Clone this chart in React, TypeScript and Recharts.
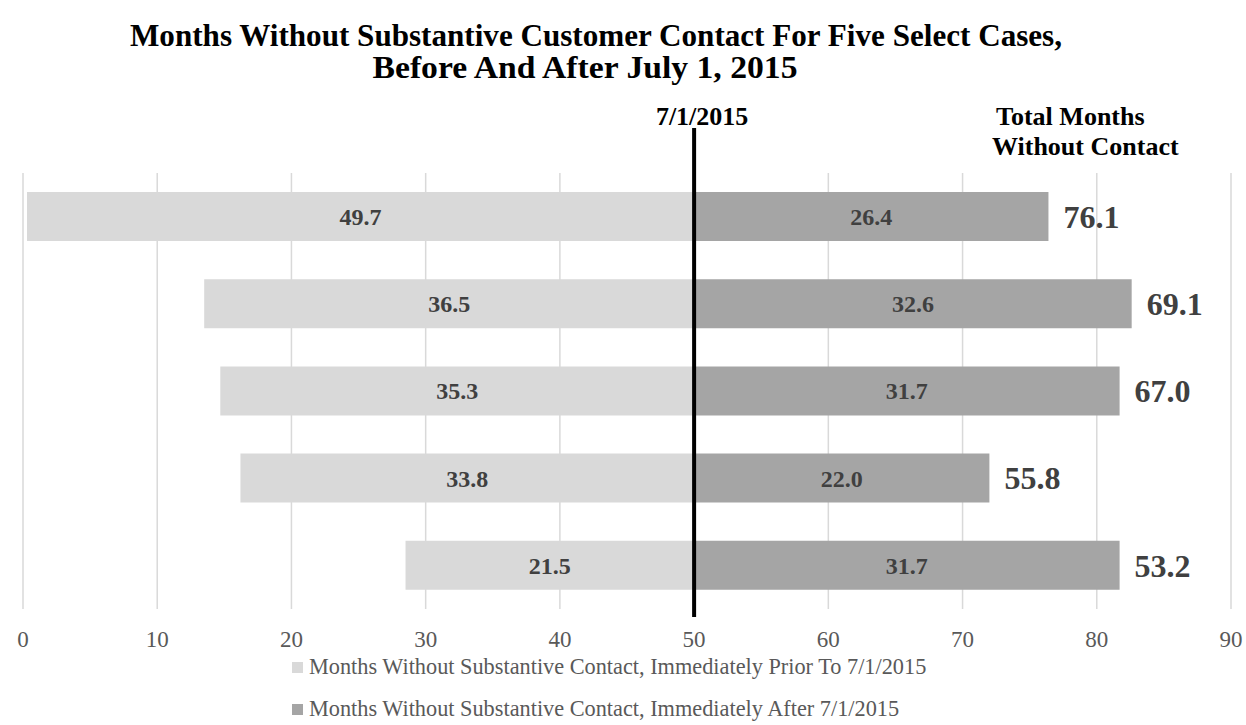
import { BarChart, Bar, XAxis, YAxis, CartesianGrid, ReferenceLine, LabelList } from 'recharts';

// five select cases, top to bottom
const cases = ['Case 1', 'Case 2', 'Case 3', 'Case 4', 'Case 5'];
const priorMonths = [49.7, 36.5, 35.3, 33.8, 21.5];
const afterMonths = [26.4, 32.6, 31.7, 22.0, 31.7];
const totalMonths = [76.1, 69.1, 67.0, 55.8, 53.2];
const xTicks = [0, 10, 20, 30, 40, 50, 60, 70, 80, 90];
const pivot = 50; // where 7/1/2015 sits on the axis

const priorLabel = 'Months Without Substantive Contact, Immediately Prior To 7/1/2015';
const afterLabel = 'Months Without Substantive Contact, Immediately After 7/1/2015';

const data = cases.map((name, i) => ({
  name,
  base: pivot - priorMonths[i],
  prior: priorMonths[i],
  after: afterMonths[i],
  total: totalMonths[i],
}));

const SERIF = '"Liberation Serif", "Times New Roman", serif';
const LIGHT = '#D9D9D9';
const DARK = '#A5A5A5';

const fmt = (v: any) => Number(v).toFixed(1);

function PivotLine(props: any) {
  const { x1, y1, x2, y2 } = props;
  const top = Math.min(y1, y2);
  const bottom = Math.max(y1, y2);
  return (
    <g>
      <line x1={x1} y1={top - 45} x2={x2} y2={bottom + 8} stroke="#000" strokeWidth={4} />
      <text x={x1 + 8} y={top - 48} textAnchor="middle" fontFamily={SERIF} fontWeight="bold" fontSize={26} fill="#000">
        7/1/2015
      </text>
    </g>
  );
}

export default function App() {
  return (
    <div style={{ position: 'absolute', left: 0, top: 0, width: 1246, height: 725, background: '#fff', overflow: 'hidden' }}>
      <BarChart
        width={1246}
        height={725}
        data={data}
        layout="vertical"
        margin={{ top: 173, right: 15, bottom: 76, left: 23 }}
        barSize={49}
      >
        <CartesianGrid horizontal={false} stroke={LIGHT} strokeWidth={1.5} />
        <XAxis
          type="number"
          domain={[0, 90]}
          ticks={xTicks}
          axisLine={false}
          tickLine={false}
          height={40}
          tickMargin={16}
          tick={{ fill: '#595959', fontSize: 23, fontFamily: SERIF }}
        />
        <YAxis type="category" dataKey="name" hide />
        <Bar dataKey="base" stackId="s" fill="transparent" isAnimationActive={false} />
        <Bar dataKey="prior" stackId="s" fill={LIGHT} isAnimationActive={false}>
          <LabelList dataKey="prior" position="center" formatter={fmt} fill="#404040" fontSize={24} fontWeight="bold" fontFamily={SERIF} />
        </Bar>
        <Bar dataKey="after" stackId="s" fill={DARK} isAnimationActive={false}>
          <LabelList dataKey="after" position="center" formatter={fmt} fill="#404040" fontSize={24} fontWeight="bold" fontFamily={SERIF} />
          <LabelList dataKey="total" position="right" offset={15} formatter={fmt} fill="#404040" fontSize={32} fontWeight="bold" fontFamily={SERIF} />
        </Bar>
        <ReferenceLine x={pivot} shape={PivotLine} />
      </BarChart>

      <svg width={1246} height={725} style={{ position: 'absolute', left: 0, top: 0, pointerEvents: 'none' }}>
        <g fontFamily={SERIF} fontWeight="bold" fill="#000" fontSize={31}>
          <text x={596} y={46} textAnchor="middle" textLength={932} lengthAdjust="spacingAndGlyphs">
            Months Without Substantive Customer Contact For Five Select Cases,
          </text>
          <text x={585} y={78} textAnchor="middle" textLength={425} lengthAdjust="spacingAndGlyphs">
            Before And After July 1, 2015
          </text>
        </g>
        <g fontFamily={SERIF} fontWeight="bold" fill="#000" fontSize={26}>
          <text x={996} y={125}>Total Months</text>
          <text x={992} y={155}>Without Contact</text>
        </g>
        <g fontFamily={SERIF} fontSize={22.3} fill="#595959">
          <rect x={292} y={662} width={11} height={11} fill={LIGHT} />
          <text x={309} y={674}>{priorLabel}</text>
          <rect x={292} y={704} width={11} height={11} fill={DARK} />
          <text x={309} y={716}>{afterLabel}</text>
        </g>
      </svg>
    </div>
  );
}
